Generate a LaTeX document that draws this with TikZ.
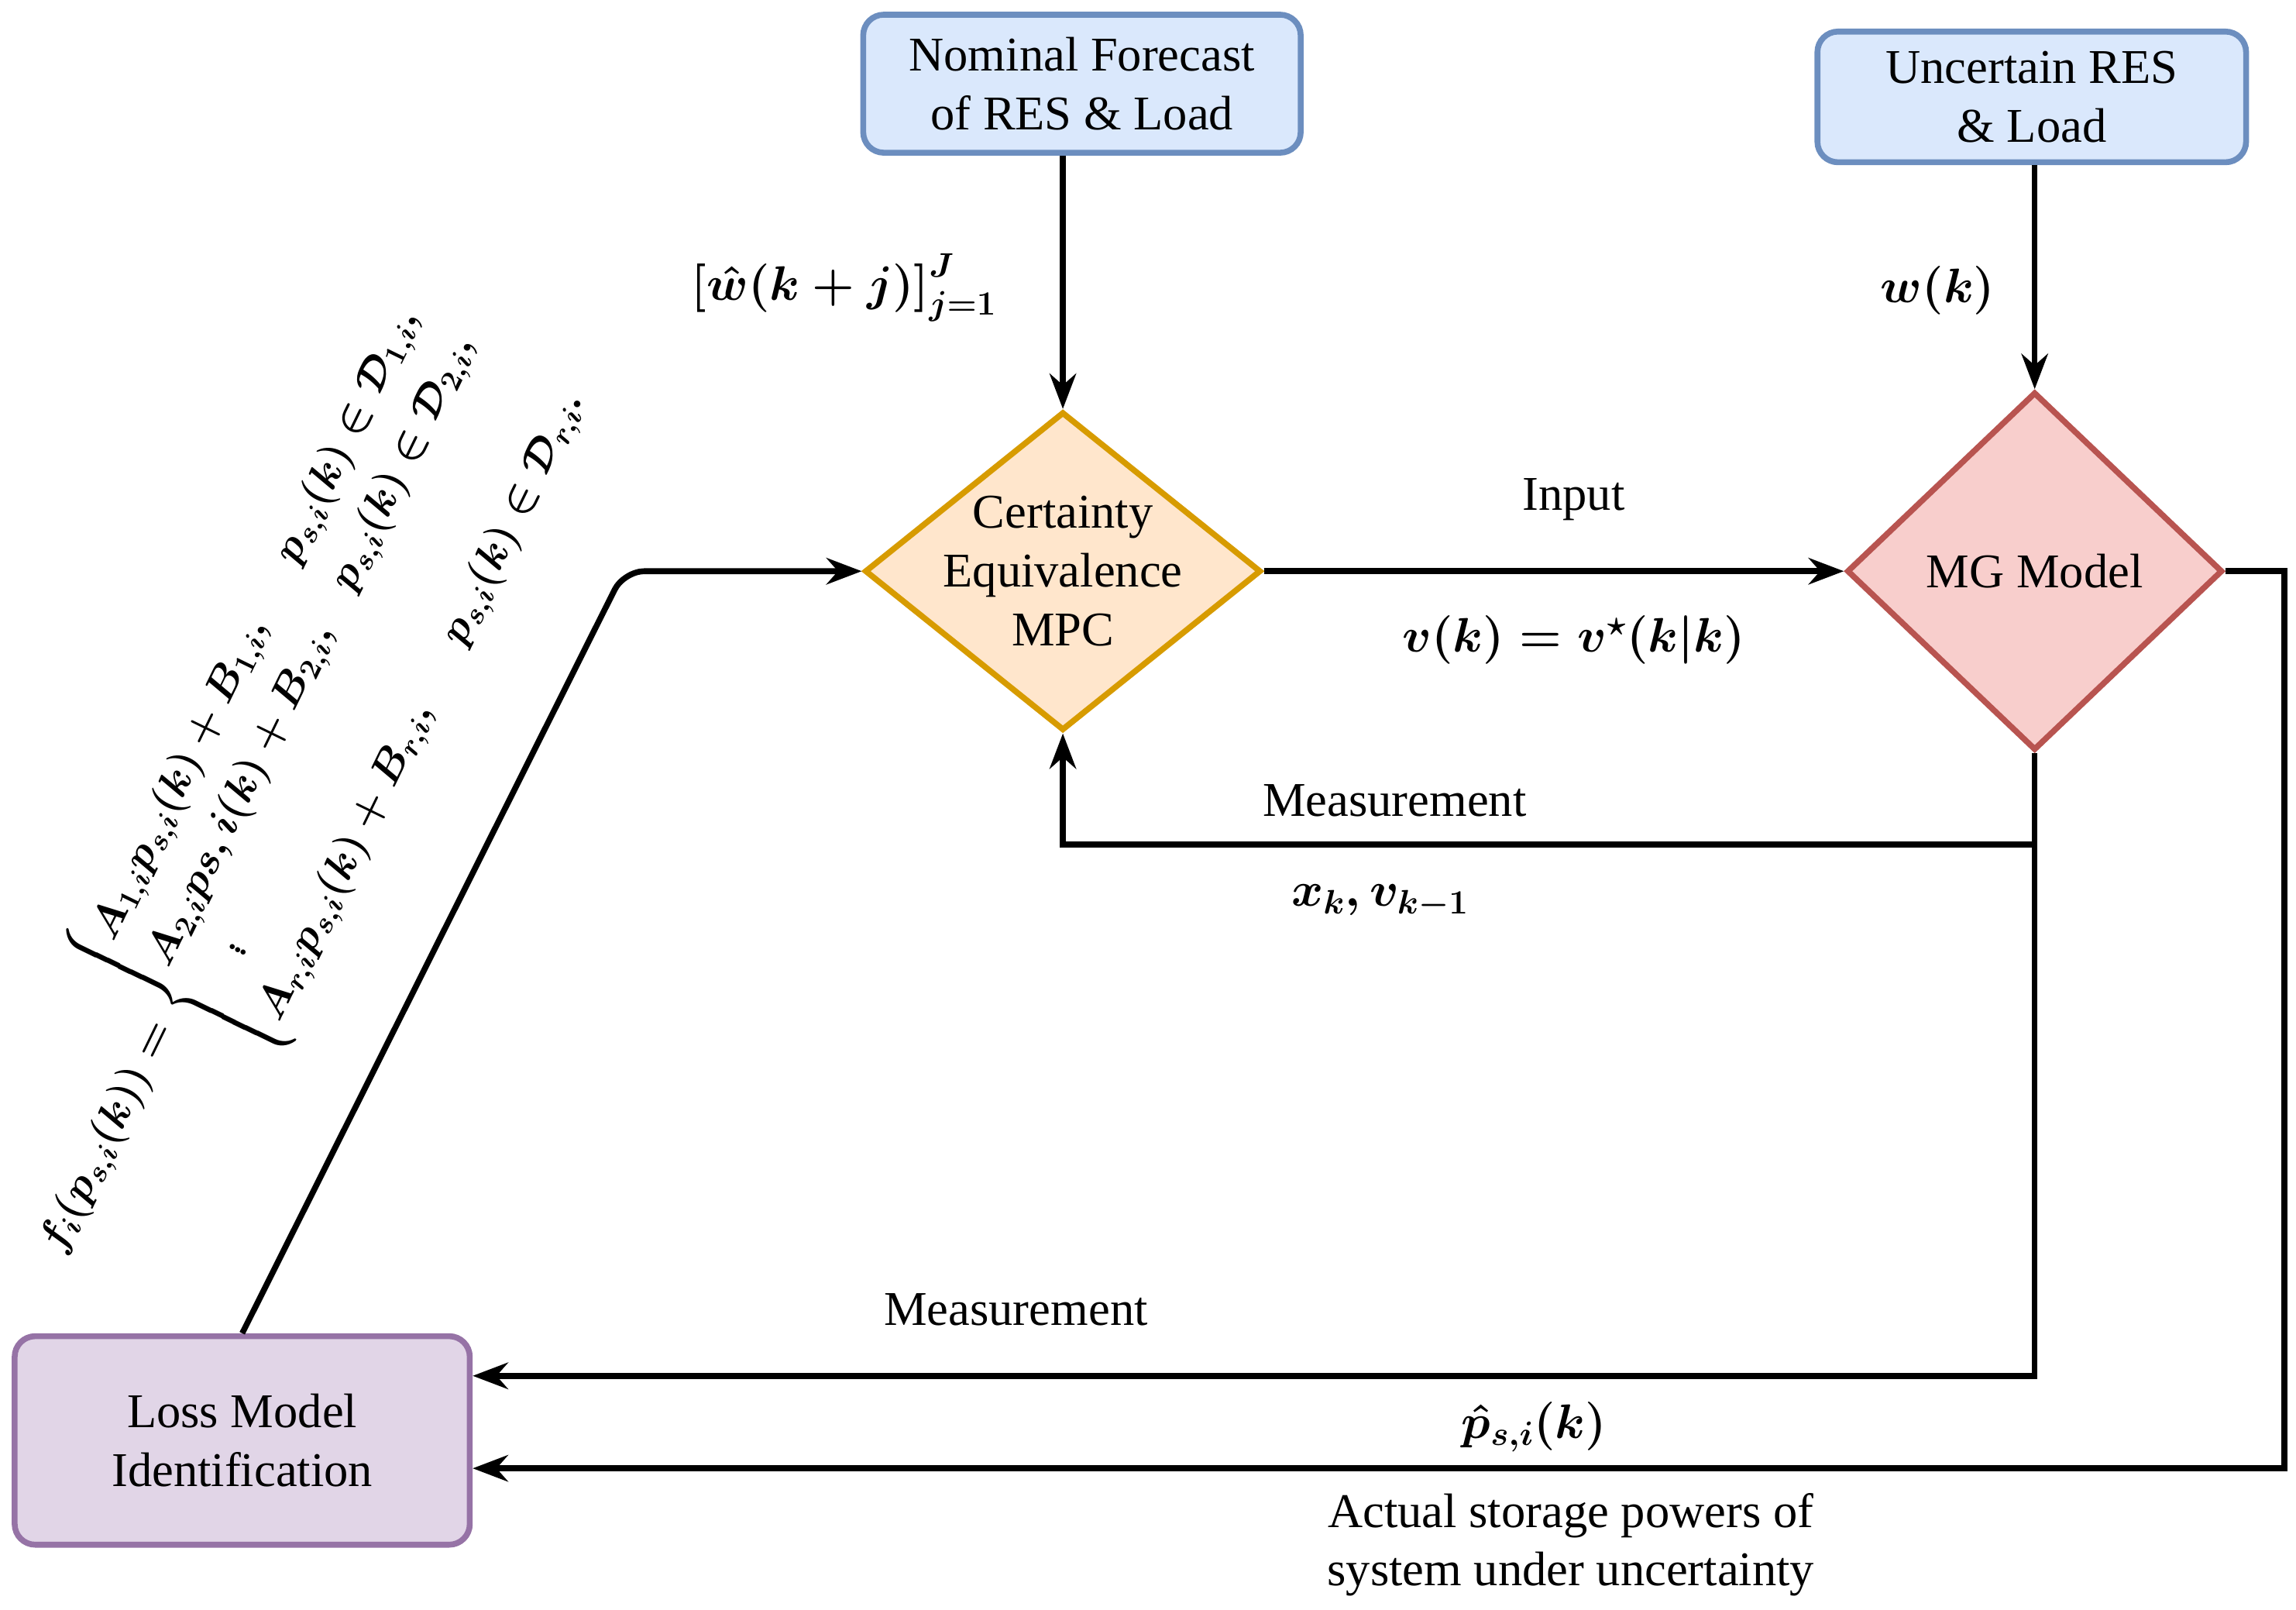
\documentclass[tikz,border=0pt]{standalone}
\usepackage{fix-cm}
\usepackage{amsmath,amssymb}
\usepackage{fontspec}
\setmainfont{Liberation Serif}
\usetikzlibrary{shapes.geometric,arrows.meta}
\definecolor{bfill}{HTML}{DAE8FC}\definecolor{bdraw}{HTML}{6C8EBF}
\definecolor{ofill}{HTML}{FFE6CC}\definecolor{odraw}{HTML}{D79B00}
\definecolor{rfill}{HTML}{F8CECC}\definecolor{rdraw}{HTML}{B85450}
\definecolor{pfill}{HTML}{E1D5E7}\definecolor{pdraw}{HTML}{9673A6}
\begin{document}
\begin{tikzpicture}[x=1pt,y=-1pt,
  txt/.style={font=\fontsize{33}{40}\selectfont,align=center},
  box/.style={draw,rounded corners=14pt,line width=4pt,inner sep=0pt,txt},
  dia/.style={diamond,draw,line width=4pt,inner sep=-40pt,txt},
  arr/.style={line width=4pt,-{Stealth[length=24pt,width=18pt]}}]
\useasboundingbox (0,0) rectangle (1564,1096);
\node[box,fill=bfill,draw=bdraw,minimum width=298pt,minimum height=94pt] (nf) at (737,57) {Nominal Forecast\\of RES \& Load};
\node[box,fill=bfill,draw=bdraw,minimum width=292pt,minimum height=89pt] (ur) at (1384,66) {Uncertain RES\\\& Load};
\node[dia,fill=ofill,draw=odraw,minimum width=270pt,minimum height=217pt] (ce) at (724,389) {Certainty\\Equivalence\\MPC};
\node[dia,fill=rfill,draw=rdraw,minimum width=256pt,minimum height=244pt] (mg) at (1386,389) {MG Model};
\node[box,fill=pfill,draw=pdraw,minimum width=310pt,minimum height=142pt] (lm) at (165,981) {Loss Model\\Identification};
\coordinate (c1) at (1386,575);
\coordinate (c2) at (724,575);
\coordinate (c3) at (1386,937);
\coordinate (c4) at (1556,389);
\coordinate (c5) at (1556,1000);
\coordinate (c6) at (425,389);
\draw[arr] (ce.north |- nf.south) -- (ce.north);
\draw[arr] (mg.north |- ur.south) -- (mg.north);
\draw[arr] (ce.east) -- (mg.west);
\draw[arr] (mg.south) -- (c1) -- (c2) -- (ce.south);
\draw[arr] (c1) -- (c3) -- (lm.east |- c3);
\draw[arr] (mg.east) -- (c4) -- (c5) -- (lm.east |- c5);
\draw[arr,rounded corners=14pt] (lm.north) -- (c6) -- (ce.west);
\node[txt] (l1) at (575,196) {{\boldmath$\left[\hat w(k+j)\right]_{j=1}^{J}$}};
\node[txt] (l2) at (1320,198) {{\boldmath$w(k)$}};
\node[txt] (l3) at (1072,340) {Input};
\node[txt] (l4) at (1072,436) {{\boldmath$v(k)=v^{\star}(k|k)$}};
\node[txt] (l5) at (950,545) {Measurement};
\node[txt] (l6) at (940,614) {{\boldmath$x_k, v_{k-1}$}};
\node[txt] (l7) at (692,892) {Measurement};
\node[txt] (l8) at (1045,972) {{\boldmath$\hat p_{s,i}(k)$}};
\node[txt] (l9) at (1070,1052) {Actual storage powers of\\system under uncertainty};
\node[font=\fontsize{29}{35}\selectfont,rotate=64] (fm) at (185,545) {{\boldmath$f_i(p_{s,i}(k))=\begin{cases}A_{1,i}p_{s,i}(k)+B_{1,i}, & p_{s,i}(k)\in\mathcal{D}_{1,i},\\ A_{2,i}ps,i(k)+B_{2,i}, & p_{s,i}(k)\in\mathcal{D}_{2,i},\\ \quad\vdots & \\ A_{r,i}p_{s,i}(k)+B_{r,i}, & p_{s,i}(k)\in\mathcal{D}_{r,i}.\end{cases}$}};
\end{tikzpicture}
\end{document}
